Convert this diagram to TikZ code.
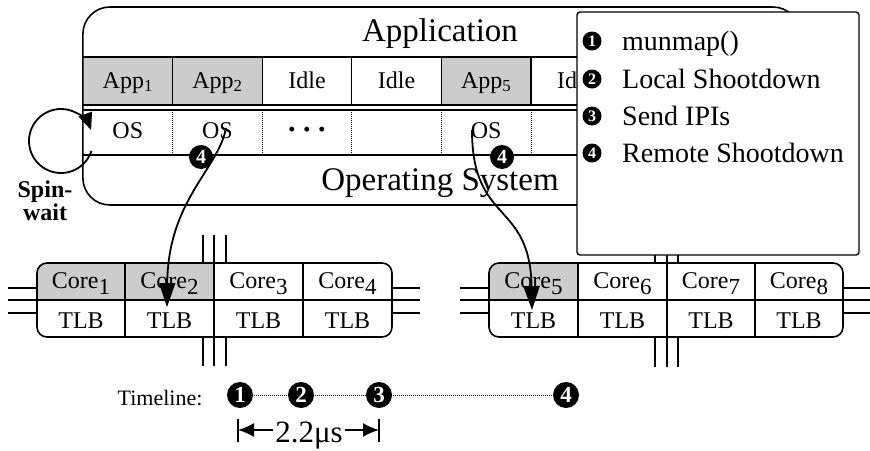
\documentclass[tikz,border=0pt]{standalone}
\usepackage{fontspec}
\setmainfont{Liberation Serif}
\usetikzlibrary{arrows.meta,calc}
\newcommand\fsz[1]{\fontsize{#1}{#1}\selectfont}
\newcommand\dgt[1]{\raisebox{-6pt}{\fsz{23}#1}}
% circled number: name, position, radius, font size, digit
\newcommand\numcirc[5]{%
  \coordinate (#1) at (#2);
  \fill[black] (#1) circle[radius=#3pt];
  \node[text=white,font=\bfseries\fsz{#4},inner sep=0pt] (#1t) at (#1) {#5};}
\tikzset{
  frame/.style={draw=black,line width=1.6pt},
  rule/.style={draw=black,line width=1.3pt},
  dotrule/.style={draw=black,line width=1pt,densely dotted},
  txt/.style={font=\fsz{24},inner sep=0pt,anchor=base},
  big/.style={font=\fsz{33},inner sep=0pt,anchor=base},
  legtxt/.style={font=\fsz{28},inner sep=0pt,anchor=base west},
  bus/.style={draw=black,line width=1.4pt},
  conn/.style={draw=black,line width=1.8pt,-{Triangle[length=24pt,width=16pt]}},
  gcell/.style={fill=black!20},
}
\begin{document}
\begin{tikzpicture}[x=1pt,y=-1pt,line join=round]
\useasboundingbox (0,0) rectangle (870,450);

% ---------- application / OS box ----------
\fill[gcell] (83,57) rectangle (262.2,105);
\fill[gcell] (441.4,57) rectangle (531,105);
\node[frame,rounded corners=27pt,minimum width=717pt,minimum height=198pt,inner sep=0pt] (appbox) at (441.4,106) {};
\foreach \yy in {57,105,110,155} \draw[rule] (83,\yy) -- (800,\yy);
\foreach \i in {1,...,7} {
  \draw[rule] ({83+89.6*\i},57) -- ({83+89.6*\i},105);
  \draw[dotrule] ({83+89.6*\i},110) -- ({83+89.6*\i},155);
}
\node[big] (apptitle) at (440,41) {Application};
\node[big] (ostitle) at (440,190) {Operating System};
\node[txt] (app1) at (127.8,88) {App\textsubscript{1}};
\node[txt] (app2) at (217.4,88) {App\textsubscript{2}};
\node[txt] (idle3) at (307,88) {Idle};
\node[txt] (idle4) at (396.6,88) {Idle};
\node[txt] (app5) at (486.2,88) {App\textsubscript{5}};
\node[txt] (idle6) at (575.8,88) {Idle};
\node[txt] (os1) at (127.8,138) {OS};
\node[txt] (os2) at (217.4,138) {OS};
\node[txt,font=\bfseries\fsz{30}] (dots3) at (307,139) {·\hspace{5pt}·\hspace{5pt}·};
\node[txt] (os5) at (486.2,138) {OS};

% ---------- spin-wait ----------
\coordinate (spinc) at (61,141);
\draw[line width=1.8pt,-{Triangle[length=17pt,width=14pt]}] ($(spinc)+(18:32)$) arc[start angle=18,end angle=340,radius=32];
\node[txt,font=\bfseries\fsz{24}] (spin1) at (45,197) {Spin-};
\node[txt,font=\bfseries\fsz{24}] (spin2) at (45,220) {wait};

% ---------- core boxes ----------
\begin{scope}
  \clip[rounded corners=10pt] (37,263) rectangle (392,337);
  \fill[gcell] (37,263) rectangle (214,300);
\end{scope}
\begin{scope}
  \clip[rounded corners=10pt] (489,263) rectangle (843,337);
  \fill[gcell] (489,263) rectangle (578,300);
\end{scope}
\foreach \yy in {288,300,313} {
  \draw[bus] (8,\yy) -- (37,\yy);
  \draw[bus] (392,\yy) -- (420,\yy);
  \draw[bus] (460,\yy) -- (489,\yy);
  \draw[bus] (843,\yy) -- (870,\yy);
}
\foreach \xx in {203,214,226} {
  \draw[bus] (\xx,235) -- (\xx,263);
  \draw[bus] (\xx,337) -- (\xx,366);
}
\foreach \xx in {655,667,678} {
  \draw[bus] (\xx,235) -- (\xx,263);
  \draw[bus] (\xx,337) -- (\xx,367);
}
\node[frame,rounded corners=10pt,minimum width=355pt,minimum height=74pt,inner sep=0pt] (coreL) at (214.5,300) {};
\node[frame,rounded corners=10pt,minimum width=354pt,minimum height=74pt,inner sep=0pt] (coreR) at (666,300) {};
\draw[rule] (coreL.west) -- (coreL.east);
\draw[rule] (coreR.west) -- (coreR.east);
\foreach \xx in {125,214,303,578,667,755} \draw[rule] (\xx,263) -- (\xx,337);

\node[txt] (c1) at (81,288) {Core\dgt{1}};
\node[txt] (c2) at (169.5,288) {Core\dgt{2}};
\node[txt] (c3) at (258.5,288) {Core\dgt{3}};
\node[txt] (c4) at (347.5,288) {Core\dgt{4}};
\node[txt] (c5) at (533.5,288) {Core\dgt{5}};
\node[txt] (c6) at (622.5,288) {Core\dgt{6}};
\node[txt] (c7) at (711,288) {Core\dgt{7}};
\node[txt] (c8) at (799,288) {Core\dgt{8}};
\node[txt] (tlb1) at (81,328) {TLB};
\node[txt] (tlb2) at (169.5,328) {TLB};
\node[txt] (tlb3) at (258.5,328) {TLB};
\node[txt] (tlb4) at (347.5,328) {TLB};
\node[txt] (tlb5) at (533.5,328) {TLB};
\node[txt] (tlb6) at (622.5,328) {TLB};
\node[txt] (tlb7) at (711,328) {TLB};
\node[txt] (tlb8) at (799,328) {TLB};

% ---------- legend ----------
\node[draw=black,line width=1.4pt,fill=white,rounded corners=3pt,minimum width=282pt,minimum height=243pt,inner sep=0pt] (legend) at (718,133.5) {};
\numcirc{lg1}{592,41}{9.5}{16}{1}
\node[legtxt] (lt1) at (622,50) {munmap()};
\numcirc{lg2}{592,79}{9.5}{16}{2}
\node[legtxt] (lt2) at (622,88) {Local Shootdown};
\numcirc{lg3}{592,116}{9.5}{16}{3}
\node[legtxt] (lt3) at (622,125) {Send IPIs};
\numcirc{lg4}{592,153}{9.5}{16}{4}
\node[legtxt] (lt4) at (622,162) {Remote Shootdown};

% ---------- remote shootdown arrows ----------
\draw[conn] ($(os2.base)+(8.6,-10)$) .. controls +(-8,42) and +(1,-107) .. ($(tlb2.north)+(-2.5,-5)$);
\draw[conn] ($(os5.base)+(-14.2,-8)$) .. controls +(0,95) and +(-2,-110) .. ($(tlb5.north)+(-1.5,-2)$);
\numcirc{n4a}{201,157}{12}{20}{4}
\numcirc{n4b}{502,157}{12}{20}{4}

% ---------- timeline ----------
\node[txt,font=\fsz{22}] (tlabel) at (160,405) {Timeline:};
\coordinate (q1) at (240,395);
\coordinate (q2) at (301,395);
\coordinate (q3) at (379,395);
\coordinate (q4) at (566,395);
\draw[dotrule,line width=0.9pt] (q1) -- (q2);
\draw[dotrule,line width=0.9pt] (q2) -- (q3);
\draw[dotrule,line width=0.9pt] (q3) -- (q4);
\numcirc{tm1}{q1}{13}{23}{1}
\numcirc{tm2}{q2}{13}{23}{2}
\numcirc{tm3}{q3}{13}{23}{3}
\numcirc{tm4}{q4}{13}{23}{4}
\coordinate (dl) at (238,430);
\coordinate (dr) at (379,430);
\node[font=\fsz{31},inner sep=0pt,anchor=base] (dimt) at (309,442) {2.2μs};
\draw[line width=1.6pt,-{Latex[length=16pt,width=14pt]}] ($(dimt.west|-dl)+(-2,0)$) -- (dl);
\draw[line width=1.6pt,-{Latex[length=16pt,width=14pt]}] ($(dimt.east|-dr)+(2,0)$) -- (dr);
\draw[line width=2.2pt] ($(dl)+(0,-11)$) -- ($(dl)+(0,12)$);
\draw[line width=2.2pt] ($(dr)+(0,-11)$) -- ($(dr)+(0,12)$);
\end{tikzpicture}
\end{document}
